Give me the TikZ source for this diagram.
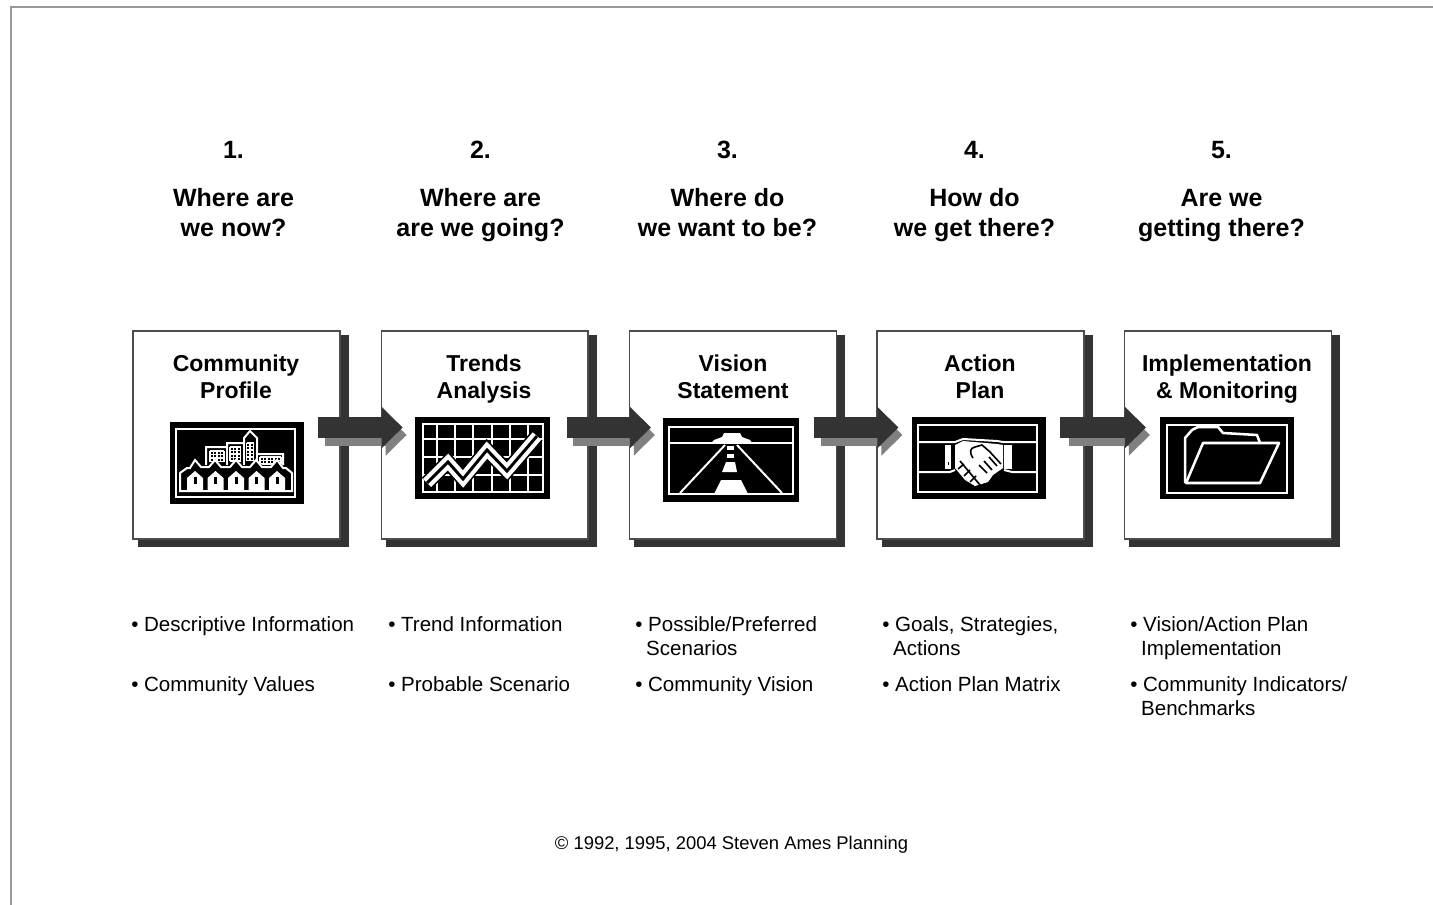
\documentclass[tikz,border=0pt]{standalone}
\usepackage{fontspec}
\setmainfont{Liberation Sans}
\usepackage{xcolor}
\usepackage{tikz}
\usetikzlibrary{arrows.meta,calc}
\definecolor{darkshade}{HTML}{333333}
\definecolor{midshade}{HTML}{808080}
\tikzset{
  stepbox/.style={draw=black!70,line width=1.1pt,fill=white,minimum width=155pt,minimum height=156pt,inner sep=0pt},
  stepshade/.style={fill=darkshade,minimum width=158.25pt,minimum height=159pt,inner sep=0pt},
  flowarrow/.style={draw=darkshade,line width=15.75pt,-{Triangle[length=15.75pt,width=30pt,fill=darkshade]}},
  flowshade/.style={draw=midshade,line width=15.75pt,-{Triangle[length=15.75pt,width=30pt,fill=midshade]}},
  iconbox/.style={fill=black,inner sep=0pt,minimum width=100.5pt,minimum height=61.5pt},
  iconline/.style={draw=white,line width=1.5pt},
  iconthin/.style={draw=white,line width=0.8pt},
  headtext/.style={align=center,inner sep=0pt,execute at begin node=\strut,execute at end node=\strut,font=\fontsize{18.75}{22.5}\selectfont\bfseries},
  titletext/.style={align=center,inner sep=0pt,execute at begin node=\strut,execute at end node=\strut,font=\fontsize{17.25}{20.6}\selectfont\bfseries},
  bullettext/.style={anchor=north west,align=left,inner sep=0pt,font=\fontsize{15.4}{18}\selectfont},
}
\begin{document}
\begin{tikzpicture}[x=0.75pt,y=0.75pt,yscale=-1,xscale=1]
\useasboundingbox (0,0) rectangle (1433,905);
\fill [white] (0,0) rectangle (1433,905);
%Page edge
\draw [color=black!40,line width=1.5pt] (11,905) -- (11,7) -- (1433,7) ;
%Box shades
\node [stepshade] (shade1) at (243.5,441) {};
\node [stepshade] (shade2) at (491,441) {};
\node [stepshade] (shade3) at (739.5,441) {};
\node [stepshade] (shade4) at (987.5,441) {};
\node [stepshade] (shade5) at (1234.5,441) {};
%Boxes
\node [stepbox] (box1) at (236.5,435) {};
\node [stepbox] (box2) at (484.7,435) {};
\node [stepbox] (box3) at (733,435) {};
\node [stepbox] (box4) at (980.5,435) {};
\node [stepbox] (box5) at (1228,435) {};
%Arrows
\draw [flowshade] ($(box1.east)+(-16,0)$) -- ($(box2.west)+(26,0)$) ;
\draw [flowshade] ($(box2.east)+(-16,0)$) -- ($(box3.west)+(26,0)$) ;
\draw [flowshade] ($(box3.east)+(-16,0)$) -- ($(box4.west)+(26,0)$) ;
\draw [flowshade] ($(box4.east)+(-16,0)$) -- ($(box5.west)+(26,0)$) ;
\draw [flowarrow] ($(box1.east)+(-23,-7.5)$) -- ($(box2.west)+(22,-7.5)$) ;
\draw [flowarrow] ($(box2.east)+(-22,-7.5)$) -- ($(box3.west)+(22,-7.5)$) ;
\draw [flowarrow] ($(box3.east)+(-23,-7.5)$) -- ($(box4.west)+(22,-7.5)$) ;
\draw [flowarrow] ($(box4.east)+(-25,-7.5)$) -- ($(box5.west)+(22,-7.5)$) ;
%Icon backs
\node [iconbox] (icon1) at (237,462.5) {};
\node [iconbox,minimum width=101.5pt] (icon2) at (482.5,458) {};
\node [iconbox,minimum width=102pt,minimum height=63pt] (icon3) at (731,460) {};
\node [iconbox] (icon4) at (979,458) {};
\node [iconbox] (icon5) at (1227,458) {};
%Town icon
\draw [iconline] (176,429) rectangle (295,497) ;
\draw [iconline] (206,465) -- (206,447) -- (227,447) -- (227,443) -- (244,443) -- (244,438) -- (250,431) -- (257,438) -- (257,454) -- (283,454) -- (283,465) ;
\draw [iconline] (244,438) -- (244,465) ;
\draw [iconline] (257,438) -- (257,465) ;
\draw [iconline] (227,443) -- (227,465) ;
\draw [iconthin,shift={(210,451)},step=3.5] (0,0) grid (14,10.5) ;
\draw [iconthin,shift={(230,447)},step=3.5] (0,0) grid (10.5,14) ;
\draw [iconthin,shift={(246.5,443)},step=3.5] (0,0) grid (7,17.5) ;
\draw [iconthin,shift={(260,457)},step=3.5] (0,0) grid (21,7) ;
\fill [black] (181,490) -- (181,473) -- (195,461) -- (205,468) -- (215,461) -- (226,468) -- (236,461) -- (246,468) -- (256,461) -- (267,468) -- (277,461) -- (291,473) -- (291,490) -- cycle ;
\draw [iconline] (180,491) -- (180,473) -- (187,468) -- (190,468) -- (195,460) -- (201,467) -- (209,467) -- (215,460) -- (221,467) -- (230,467) -- (236,460) -- (242,467) -- (250,467) -- (256,460) -- (262,467) -- (271,467) -- (277,460) -- (283,468) -- (286,468) -- (292,473) -- (292,491) -- cycle ;
\fill [white] (187,490) -- (187,478) -- (195,471) -- (203,478) -- (203,490) -- cycle ;
\fill [white] (207.5,490) -- (207.5,478) -- (215.5,471) -- (223.5,478) -- (223.5,490) -- cycle ;
\fill [white] (228,490) -- (228,478) -- (236,471) -- (244,478) -- (244,490) -- cycle ;
\fill [white] (248.5,490) -- (248.5,478) -- (256.5,471) -- (264.5,478) -- (264.5,490) -- cycle ;
\fill [white] (269,490) -- (269,478) -- (277,471) -- (285,478) -- (285,490) -- cycle ;
\fill [black] (193.5,477) rectangle (196.5,484) ;
\fill [black] (214,477) rectangle (217,484) ;
\fill [black] (234.5,477) rectangle (237.5,484) ;
\fill [black] (255,477) rectangle (258,484) ;
\fill [black] (275.5,477) rectangle (278.5,484) ;
%Chart icon
\draw [iconline] (423,424) rectangle (543,492) ;
\draw [iconthin] (437,424) -- (437,492) (455,424) -- (455,492) (473,424) -- (473,492) (492,424) -- (492,492) (510,424) -- (510,492) (528,424) -- (528,492) ;
\draw [iconthin] (423,439) -- (543,439) (423,457) -- (543,457) (423,475) -- (543,475) ;
\draw [black,line width=11pt,miter limit=2] (427,483) -- (448,462) -- (463,479) -- (487,450) -- (507,471) -- (537,436) ;
\draw [white,line width=8.5pt,miter limit=2] (427,483) -- (448,462) -- (463,479) -- (487,450) -- (507,471) -- (537,436) ;
\draw [black,line width=2.2pt,miter limit=2] (427,483) -- (448,462) -- (463,479) -- (487,450) -- (507,471) -- (537,436) ;
%Road icon
\draw [iconline] (669,427) rectangle (793,494) ;
\draw [iconline] (669,443) -- (793,443) ;
\fill [white] (711,443) -- (714,440) -- (722,437) -- (724,433) -- (740,433) -- (742,437) -- (750,440) -- (752,443) -- cycle ;
\draw [iconline] (725,445) -- (680,493) ;
\draw [iconline] (737,445) -- (782,493) ;
\fill [white] (727,446) rectangle (734,450) ;
\fill [white] (727,454) rectangle (734,458) ;
\fill [white] (726,462) -- (735,462) -- (737,472) -- (722,472) -- cycle ;
\fill [white] (721,480) -- (741,480) -- (748,494) -- (714,494) -- cycle ;
%Handshake icon
\draw [iconline] (918,425) rectangle (1037,492) ;
\draw [iconline] (918,442) -- (955,442) -- (963,439) -- (997,441) -- (1003,442) -- (1037,442) ;
\draw [iconline] (918,472) -- (950,472) -- (955,470) (1004,470) -- (1012,472) -- (1037,472) ;
\fill [white] (945,445) rectangle (951,469) ;
\fill [white] (1004,445) rectangle (1012,469) ;
\fill [black] (947.5,462) rectangle (948.5,465) ;
\fill [white] (955,445) -- (963,441) -- (997,444) -- (1003,445) -- (1003,468) -- (993,475) -- (988,482) -- (975,486) -- (965,480) -- (955,468) -- cycle ;
\draw [black,line width=1.2pt] (973,458) .. controls (969,452) and (970,448) .. (975,447) -- (982,445) -- (990,452) -- (1001,464) ;
\draw [black,line width=1.2pt] (979,465) -- (987,473) (984,461) -- (992,470) (989,457) -- (997,466) ;
\draw [black,line width=1.2pt] (960,461) -- (980,485) (964,464) -- (958,469) (970,470) -- (964,476) (976,476) -- (970,482) ;
%Folder icon
\draw [iconline] (1167,425) rectangle (1287,493) ;
\draw [iconline,line width=1.9pt,line join=round] (1185,483) -- (1185,438) -- (1192,430) -- (1198,427) -- (1218,427) -- (1223,433) -- (1257,435) -- (1260,443) ;
\draw [iconline,line width=1.9pt,line join=round] (1279,443) -- (1203,443) -- (1186,483) -- (1260,483) -- cycle ;
% Text Node
\node [headtext] (num1) at (233.5,153) {1.};
\node [headtext] (num2) at (480.5,153) {2.};
\node [headtext] (num3) at (727.5,153) {3.};
\node [headtext] (num4) at (974.5,153) {4.};
\node [headtext] (num5) at (1221.5,153) {5.};
\node [headtext] (ask1) at (233.5,217) {Where are\\we now?};
\node [headtext] (ask2) at (480.5,217) {Where are\\are we going?};
\node [headtext] (ask3) at (727.5,217) {Where do\\we want to be?};
\node [headtext] (ask4) at (974.5,217) {How do\\we get there?};
\node [headtext] (ask5) at (1221.5,217) {Are we\\getting there?};
% Text Node
\node [titletext] (title1) at (236,381) {Community\\Profile};
\node [titletext] (title2) at (484,381) {Trends\\Analysis};
\node [titletext] (title3) at (733,381) {Vision\\Statement};
\node [titletext] (title4) at (980,381) {Action\\Plan};
\node [titletext] (title5) at (1227,381) {Implementation\\\& Monitoring};
% Text Node
\node [bullettext] (info1a) at (131,614) {\strut• Descriptive Information};
\node [bullettext] (info1b) at (131,674) {\strut• Community Values};
\node [bullettext] (info2a) at (388,614) {\strut• Trend Information};
\node [bullettext] (info2b) at (388,674) {\strut• Probable Scenario};
\node [bullettext] (info3a) at (635,614) {\strut• Possible/Preferred\\\hspace*{8.2pt}Scenarios};
\node [bullettext] (info3b) at (635,674) {\strut• Community Vision};
\node [bullettext] (info4a) at (882,614) {\strut• Goals, Strategies,\\\hspace*{8.2pt}Actions};
\node [bullettext] (info4b) at (882,674) {\strut• Action Plan Matrix};
\node [bullettext] (info5a) at (1130,614) {\strut• Vision/Action Plan\\\hspace*{8.2pt}Implementation};
\node [bullettext] (info5b) at (1130,674) {\strut• Community Indicators/\\\hspace*{8.2pt}Benchmarks};
% Text Node
\node [inner sep=0pt,font=\fontsize{13.8}{17}\selectfont] (credit) at (731.5,845) {© 1992, 1995, 2004 Steven Ames Planning};
\end{tikzpicture}
\end{document}
